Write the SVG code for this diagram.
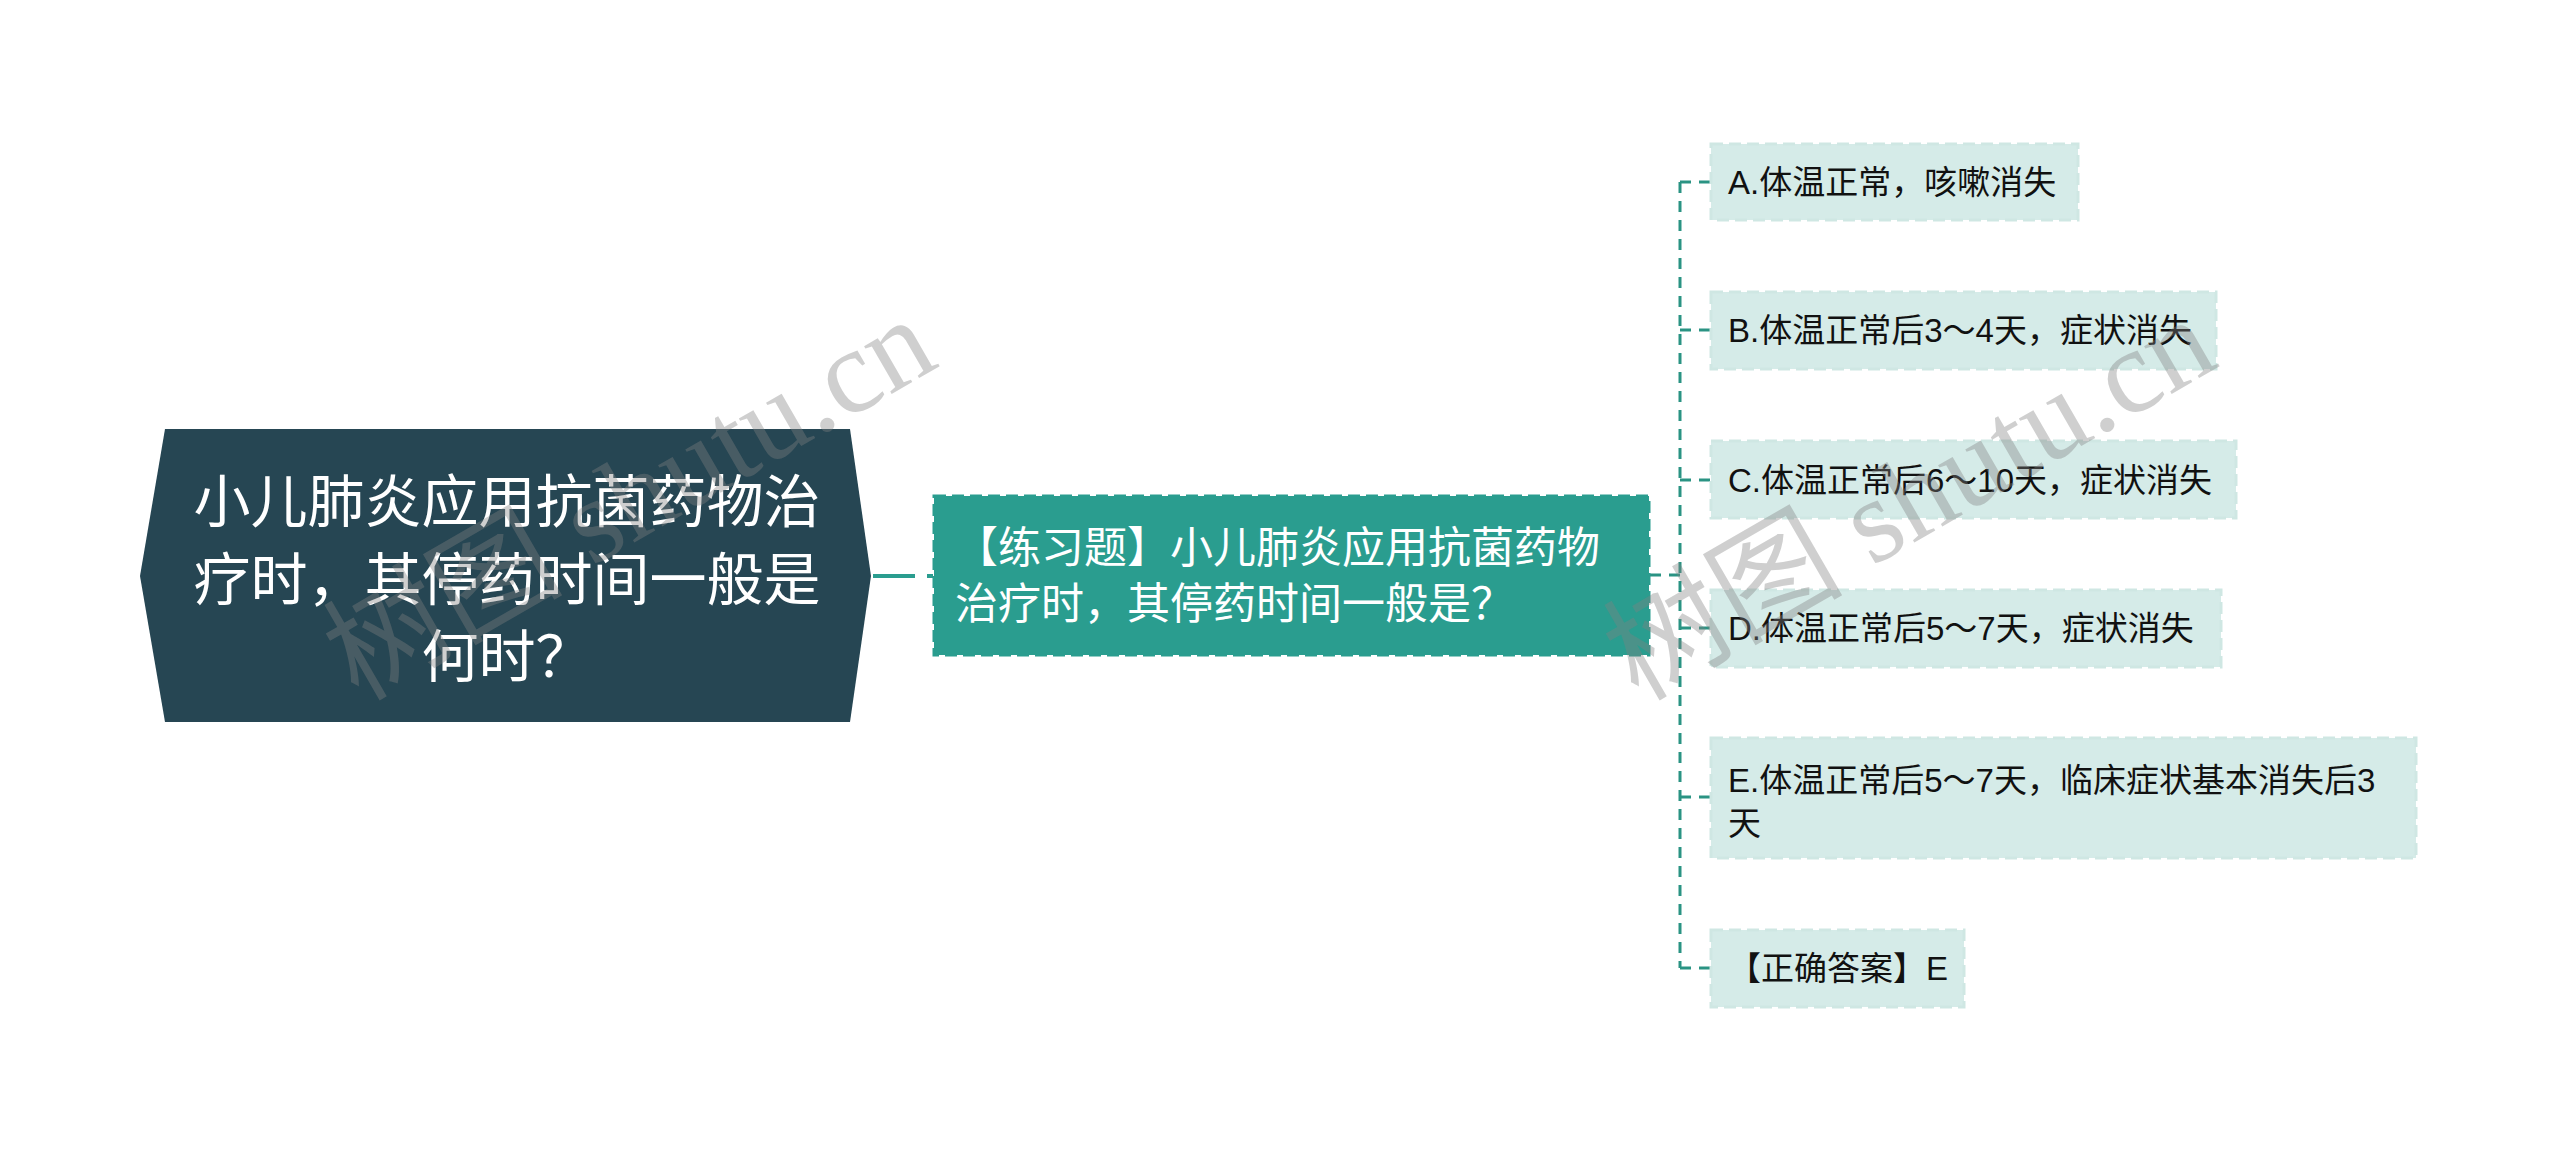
<svg xmlns="http://www.w3.org/2000/svg" width="2560" height="1151" viewBox="0 0 2560 1151">
<style>
.txt{font-family:"Liberation Sans","Noto Sans CJK SC",sans-serif;}
.root-t{fill:#ffffff;font-size:57px;}
.main-t{fill:#ffffff;font-size:43px;}
.leaf-t{fill:#111111;font-size:33px;}
.leaf{fill:#d5ebe8;stroke:#cfe7e3;stroke-width:3;stroke-dasharray:12 6;}
.conn{fill:none;stroke:#2a9383;stroke-width:3;stroke-dasharray:11 8;}
.wm{font-family:"Liberation Serif","Noto Sans CJK SC",serif;font-size:120px;fill:#808080;fill-opacity:0.38;}
</style>
<rect width="2560" height="1151" fill="#ffffff"/>
<g id="connectors">
<path d="M873 576 H933" fill="none" stroke="#2a9d8f" stroke-width="4" stroke-dasharray="42 12"/>
<path class="conn" d="M1650 575 H1680"/>
<path class="conn" d="M1680 182 V968"/>
<path class="conn" d="M1680 182 H1711"/>
<path class="conn" d="M1680 330 H1711"/>
<path class="conn" d="M1680 480 H1711"/>
<path class="conn" d="M1680 628 H1711"/>
<path class="conn" d="M1680 797 H1711"/>
<path class="conn" d="M1680 968 H1711"/>
</g>
<g id="root">
<polygon points="165,429 850,429 871,576 850,722 165,722 140,576" fill="#264653"/>
<text class="txt root-t" text-anchor="middle"><tspan x="507" y="522">小儿肺炎应用抗菌药物治</tspan><tspan x="507" y="600">疗时，其停药时间一般是</tspan><tspan x="507" y="677">何时？</tspan></text>
</g>
<g id="question">
<rect x="934" y="496" width="715" height="159" fill="#2a9d8f" stroke="#2a9d8f" stroke-width="3" stroke-dasharray="12 6"/>
<text class="txt main-t"><tspan x="955" y="563">【练习题】小儿肺炎应用抗菌药物</tspan><tspan x="955" y="619">治疗时，其停药时间一般是？</tspan></text>
</g>
<g id="optA">
<rect class="leaf" x="1711" y="144" width="367" height="76"/>
<text class="txt leaf-t" x="1728" y="194">A.体温正常，咳嗽消失</text>
</g>
<g id="optB">
<rect class="leaf" x="1711" y="292" width="505" height="77"/>
<text class="txt leaf-t" x="1728" y="342">B.体温正常后3～4天，症状消失</text>
</g>
<g id="optC">
<rect class="leaf" x="1711" y="441" width="525" height="77"/>
<text class="txt leaf-t" x="1728" y="492">C.体温正常后6～10天，症状消失</text>
</g>
<g id="optD">
<rect class="leaf" x="1711" y="590" width="510" height="77"/>
<text class="txt leaf-t" x="1728" y="640">D.体温正常后5～7天，症状消失</text>
</g>
<g id="optE">
<rect class="leaf" x="1711" y="738" width="705" height="120"/>
<text class="txt leaf-t"><tspan x="1728" y="792">E.体温正常后5～7天，临床症状基本消失后3</tspan><tspan x="1728" y="835">天</tspan></text>
</g>
<g id="answer">
<rect class="leaf" x="1711" y="930" width="253" height="77"/>
<text class="txt leaf-t" x="1728" y="980">【正确答案】E</text>
</g>
<g id="watermarks">
<text class="wm" transform="translate(358 702) rotate(-30)">树图 shutu.cn</text>
<text class="wm" transform="translate(1638 702) rotate(-30)">树图 shutu.cn</text>
</g>
</svg>
